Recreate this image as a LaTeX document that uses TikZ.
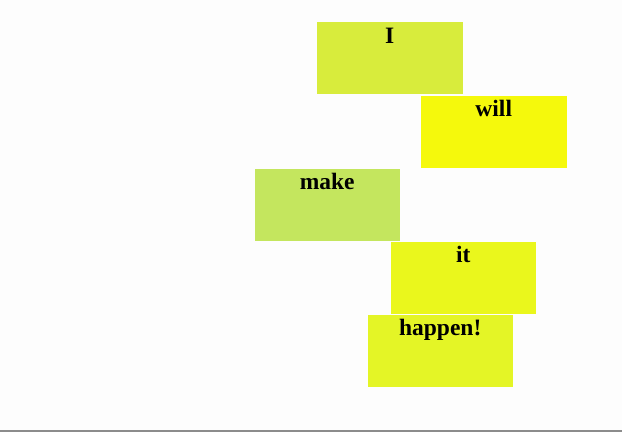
\documentclass[tikz,border=0pt]{standalone}
\usepackage{fontspec}
\setmainfont{Liberation Serif}
\definecolor{bgc}{HTML}{FDFDFD}
\definecolor{cI}{HTML}{D8EC3C}
\definecolor{cWill}{HTML}{F5F90C}
\definecolor{cMake}{HTML}{C4E65E}
\definecolor{cIt}{HTML}{EAF71C}
\definecolor{cHappen}{HTML}{E4F526}
\definecolor{lineg}{HTML}{8C8C8C}
\tikzset{
  wordbox/.style={inner sep=0pt, outer sep=0pt, minimum width=145.5pt, minimum height=72pt, anchor=north west},
  wordtext/.style={font=\fontsize{23.5}{23.5}\selectfont\bfseries, anchor=base, inner sep=0pt, text=black}
}
\begin{document}
\begin{tikzpicture}[x=1pt,y=-1pt]
\fill[bgc] (0,0) rectangle (622,432);
\useasboundingbox (0,0) rectangle (622,432);
\fill[lineg] (0,429.8) rectangle (622,432);
\node[wordbox, fill=cI] (bI) at (317,22) {};
\node[wordtext] (tI) at ([yshift=-21pt]bI.north) {I};
\node[wordbox, fill=cWill] (bWill) at (421,95.5) {};
\node[wordtext] (tWill) at ([yshift=-21pt]bWill.north) {will};
\node[wordbox, fill=cMake] (bMake) at (254.5,168.5) {};
\node[wordtext] (tMake) at ([yshift=-20.8pt]bMake.north) {make};
\node[wordbox, fill=cIt] (bIt) at (390.5,241.5) {};
\node[wordtext] (tIt) at ([yshift=-20.8pt]bIt.north) {it};
\node[wordbox, fill=cHappen] (bHappen) at (367.5,314.5) {};
\node[wordtext] (tHappen) at ([yshift=-20.8pt]bHappen.north) {happen!};
\end{tikzpicture}
\end{document}
